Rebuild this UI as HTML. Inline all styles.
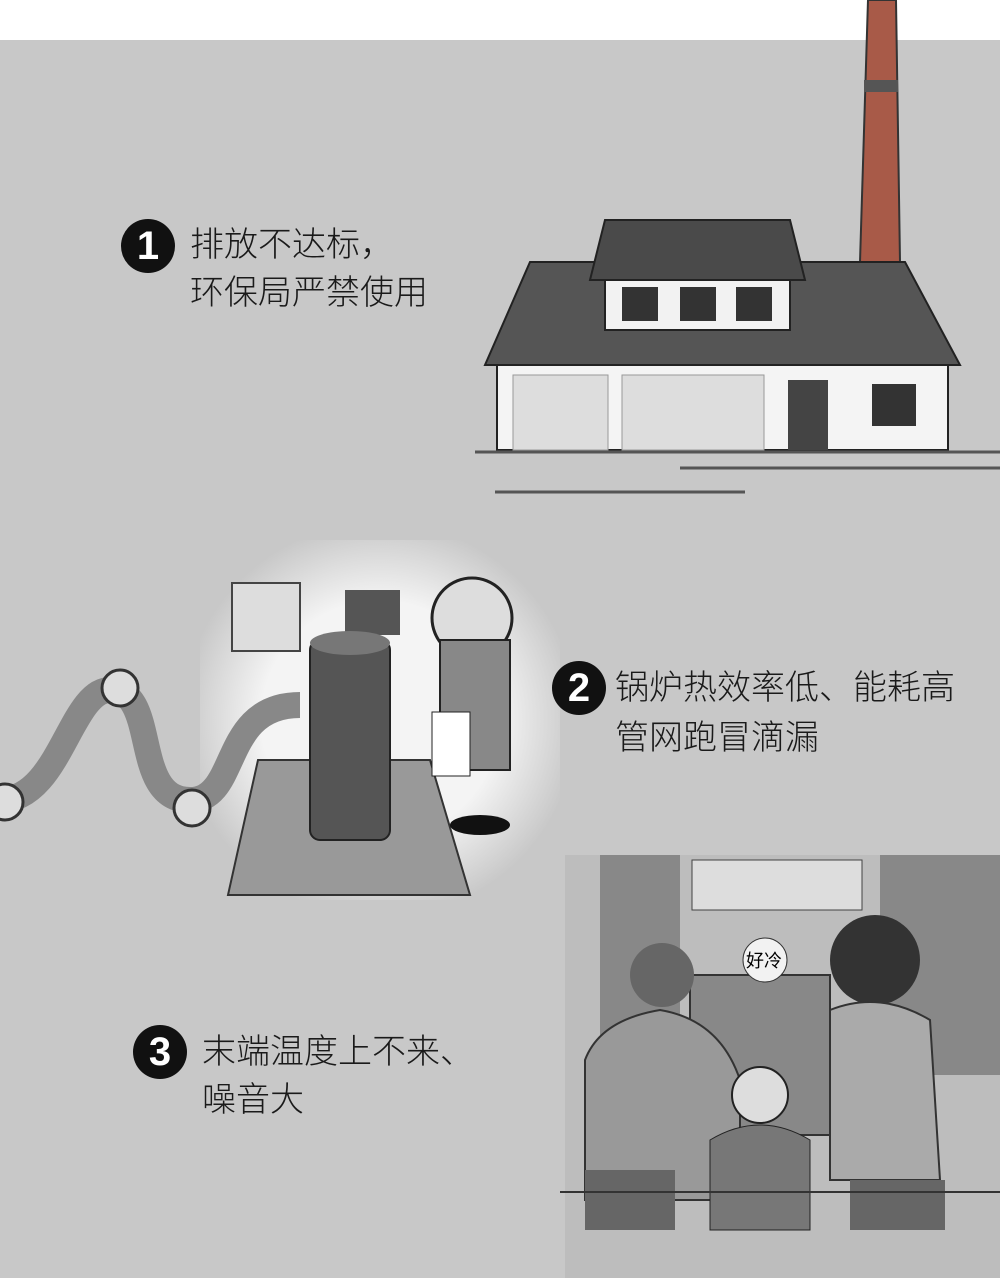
<!DOCTYPE html>
<html><head><meta charset="utf-8"><style>
body{margin:0;width:1000px;height:1278px;overflow:hidden;background:#fff;position:relative;font-family:"Liberation Sans","Noto Sans CJK SC",sans-serif}
#bg{position:absolute;left:0;top:40px;width:1000px;height:1238px;background:#c8c8c8}
.t{position:absolute;font-size:34px;font-weight:300;color:#1a1a1a;line-height:48px;white-space:nowrap}
.n{position:absolute;width:54px;height:54px;border-radius:50%;background:#111;color:#fff;font:bold 40px/54px "Liberation Sans",sans-serif;text-align:center}
svg{position:absolute;left:0;top:0}
</style></head><body>
<div id="bg"></div>
<svg width="1000" height="1278">
<defs><radialGradient id="g" cx="0.5" cy="0.5" r="0.55"><stop offset="0.6" stop-color="#f4f4f4"/><stop offset="1" stop-color="#c8c8c8"/></radialGradient></defs>
<!-- factory -->
<polygon points="868,0 896,0 900,262 860,262" fill="#a85a48" stroke="#333" stroke-width="2"/>
<rect x="864" y="80" width="34" height="12" fill="#555"/>
<polygon points="530,262 905,262 960,365 485,365" fill="#555" stroke="#222" stroke-width="2"/>
<polygon points="605,220 790,220 805,280 590,280" fill="#4a4a4a" stroke="#222" stroke-width="2"/>
<rect x="605" y="280" width="185" height="50" fill="#f2f2f2" stroke="#222" stroke-width="2"/>
<g fill="#333"><rect x="622" y="287" width="36" height="34"/><rect x="680" y="287" width="36" height="34"/><rect x="736" y="287" width="36" height="34"/></g>
<rect x="497" y="365" width="451" height="85" fill="#f4f4f4" stroke="#222" stroke-width="2"/>
<rect x="513" y="375" width="95" height="75" fill="#ddd" stroke="#999"/>
<rect x="622" y="375" width="142" height="75" fill="#ddd" stroke="#999"/>
<rect x="788" y="380" width="40" height="70" fill="#444"/>
<rect x="872" y="384" width="44" height="42" fill="#333"/>
<g stroke="#555" stroke-width="3"><line x1="475" y1="452" x2="1000" y2="452"/><line x1="680" y1="468" x2="1000" y2="468"/><line x1="495" y1="492" x2="745" y2="492"/></g>
<!-- pump scene -->
<rect x="200" y="540" width="360" height="360" fill="url(#g)"/>
<path d="M0,800 C60,800 70,690 110,690 C160,690 130,800 190,800 C240,800 220,705 300,705" fill="none" stroke="#888" stroke-width="26"/>
<g fill="#ddd" stroke="#333" stroke-width="3"><circle cx="120" cy="688" r="18"/><circle cx="192" cy="808" r="18"/><circle cx="5" cy="802" r="18"/></g>
<rect x="232" y="583" width="68" height="68" fill="#ddd" stroke="#444" stroke-width="2"/>
<rect x="345" y="590" width="55" height="45" fill="#555"/>
<polygon points="258,760 430,760 470,895 228,895" fill="#999" stroke="#333" stroke-width="2"/>
<rect x="310" y="640" width="80" height="200" rx="10" fill="#555" stroke="#222" stroke-width="2"/>
<ellipse cx="350" cy="643" rx="40" ry="12" fill="#777"/>
<circle cx="472" cy="618" r="40" fill="#ddd" stroke="#222" stroke-width="3"/>
<rect x="440" y="640" width="70" height="130" fill="#888" stroke="#222" stroke-width="2"/>
<rect x="432" y="712" width="38" height="64" fill="#fff" stroke="#222"/>
<ellipse cx="480" cy="825" rx="30" ry="10" fill="#111"/>
<!-- room scene -->
<rect x="565" y="855" width="435" height="423" fill="#bdbdbd"/>
<rect x="600" y="855" width="80" height="200" fill="#888"/>
<rect x="880" y="855" width="120" height="220" fill="#888"/>
<rect x="692" y="860" width="170" height="50" fill="#ddd" stroke="#444"/>
<rect x="690" y="975" width="140" height="160" fill="#888" stroke="#333" stroke-width="2"/>
<circle cx="662" cy="975" r="32" fill="#666"/>
<path d="M585,1060 Q600,1020 660,1010 Q720,1020 740,1080 L740,1200 L585,1200Z" fill="#999" stroke="#333" stroke-width="2"/>
<circle cx="875" cy="960" r="45" fill="#333"/>
<path d="M830,1010 Q880,990 930,1020 L940,1180 L830,1180Z" fill="#aaa" stroke="#333" stroke-width="2"/>
<circle cx="760" cy="1095" r="28" fill="#ddd" stroke="#222" stroke-width="2"/>
<path d="M710,1140 Q760,1110 810,1140 L810,1230 L710,1230Z" fill="#777" stroke="#222"/>
<circle cx="765" cy="960" r="22" fill="#f2f2f2" stroke="#333"/>
<text x="746" y="967" font-size="18" font-family="Noto Sans CJK SC,sans-serif">好冷</text>
<rect x="585" y="1170" width="90" height="60" fill="#666"/>
<rect x="850" y="1180" width="95" height="50" fill="#666"/>
<line x1="560" y1="1192" x2="1000" y2="1192" stroke="#333" stroke-width="2"/>
</svg>
<div class="n" style="left:121px;top:219px">1</div>
<div class="t" style="left:190px;top:221px">排放不达标，</div>
<div class="t" style="left:190px;top:269px">环保局严禁使用</div>
<div class="n" style="left:552px;top:661px">2</div>
<div class="t" style="left:615px;top:664px">锅炉热效率低、能耗高</div>
<div class="t" style="left:615px;top:714px">管网跑冒滴漏</div>
<div class="n" style="left:133px;top:1025px">3</div>
<div class="t" style="left:202px;top:1028px">末端温度上不来、</div>
<div class="t" style="left:202px;top:1076px">噪音大</div>
</body></html>
